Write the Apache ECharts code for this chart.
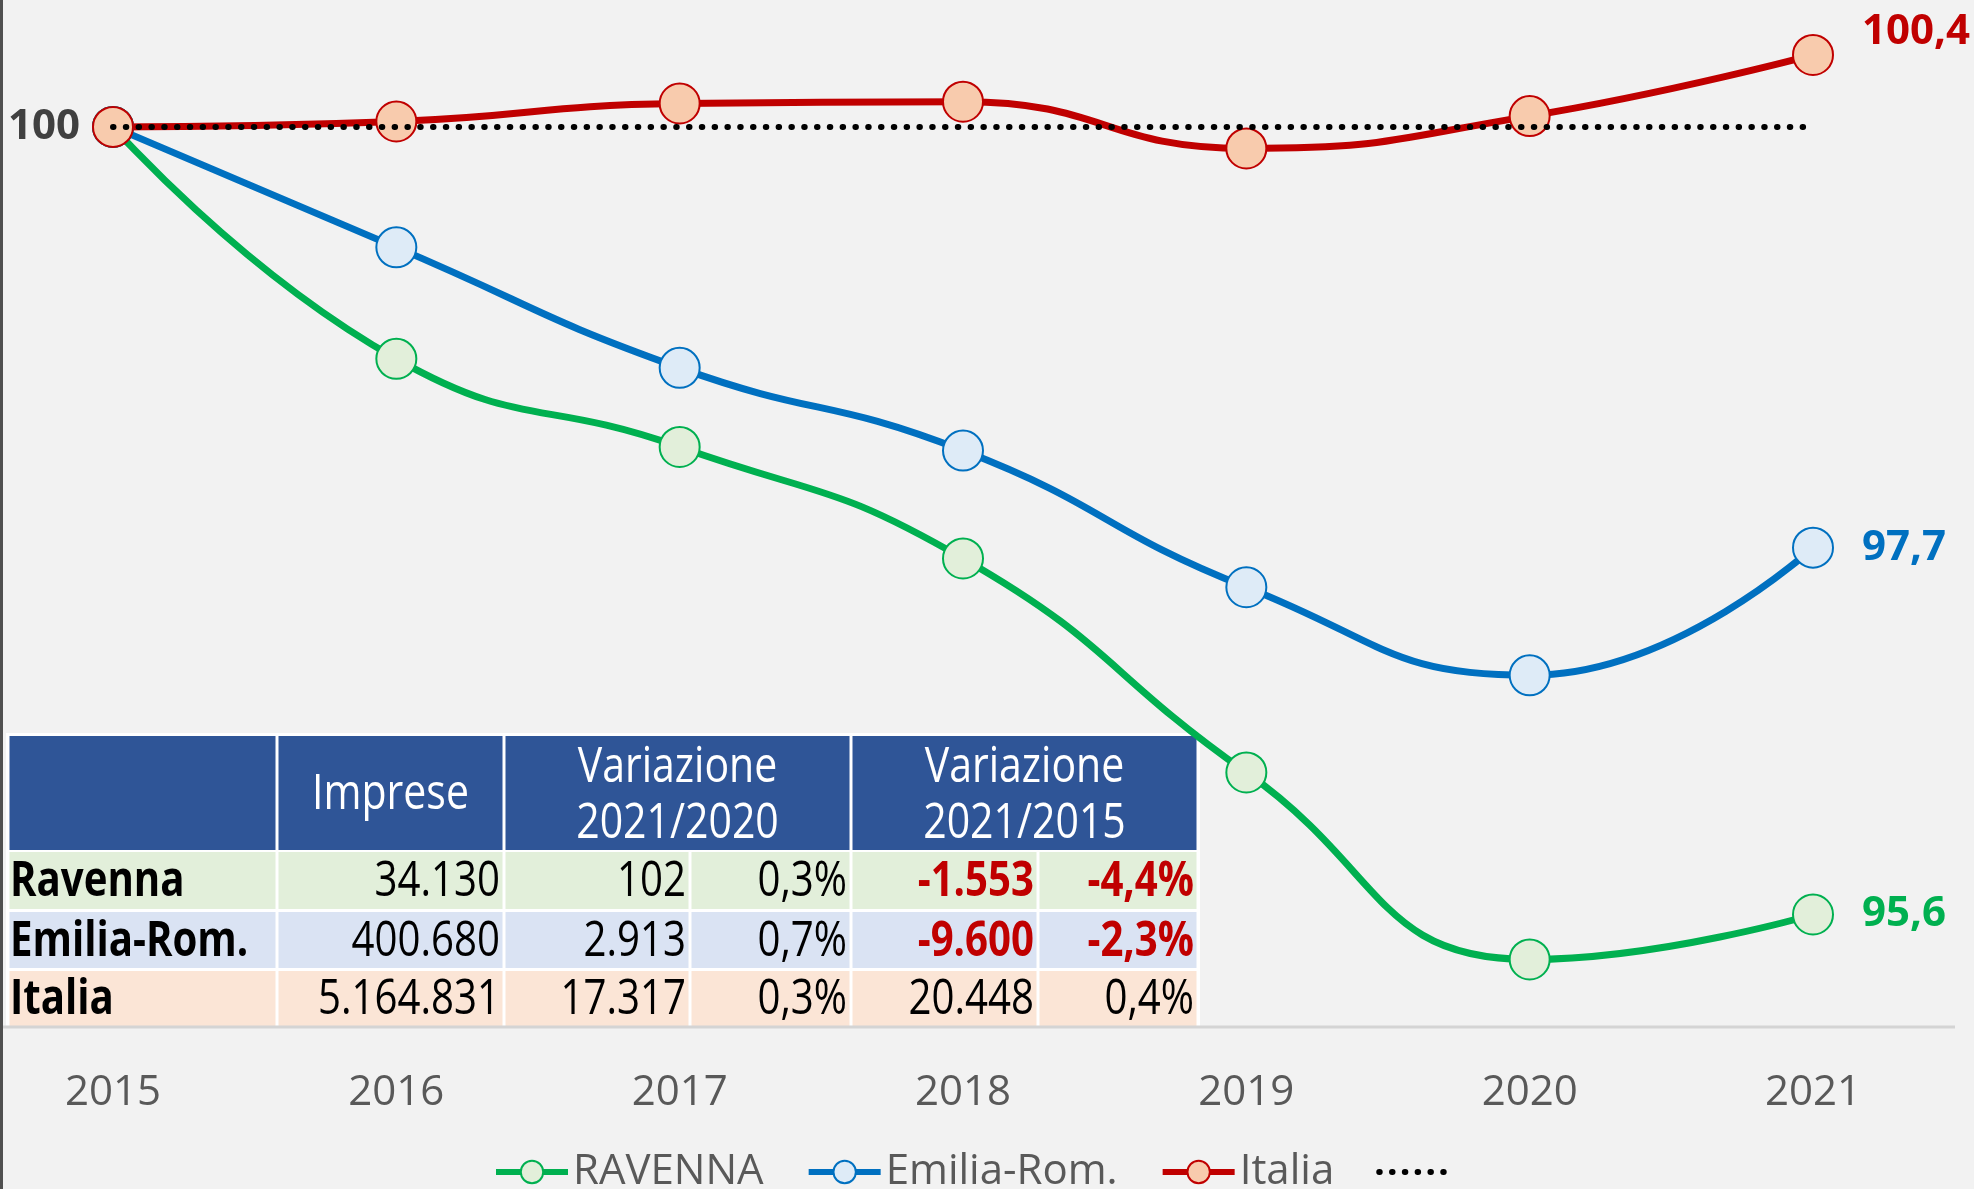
<!DOCTYPE html>
<html>
<head>
<meta charset="utf-8">
<script src="https://cdn.jsdelivr.net/npm/echarts@6/dist/echarts.min.js"></script>
<style>
  html, body { margin: 0; padding: 0; background: #f2f2f2; }
  #chart { width: 1974px; height: 1189px; }
</style>
</head>
<body>
<div id="chart"></div>
<script>
// dati (indice 2015 = 100)
const years = ['2015', '2016', '2017', '2018', '2019', '2020', '2021'];
const ravenna = [100, 98.71, 98.22, 97.60, 96.41, 95.37, 95.62];
const emilia = [100, 99.33, 98.66, 98.20, 97.44, 96.95, 97.66];
const italia = [100, 100.03, 100.13, 100.14, 99.88, 100.06, 100.40];
const base = [100, 100, 100, 100, 100, 100, 100];

// tabella
const rowNames = ['Ravenna', 'Emilia-Rom.', 'Italia'];
const imprese = ['34.130', '400.680', '5.164.831'];
const var2020Abs = ['102', '2.913', '17.317'];
const var2020Pct = ['0,3%', '0,7%', '0,3%'];
const var2015Abs = ['-1.553', '-9.600', '20.448'];
const var2015Pct = ['-4,4%', '-2,3%', '0,4%'];

const FONT = '"Open Sans", "Noto Sans", sans-serif';
const fmt = v => v.toFixed(1).replace('.', ',');

let chart = echarts.init(document.getElementById('chart'));

// --- tabella disegnata con graphic ---
const colX = [8, 277, 504, 690, 851, 1038, 1198];
const rowY = [[852, 909], [912, 968], [971, 1026]];
const rowFill = ['#e2efda', '#dae3f3', '#fbe5d6'];
const headFill = '#2f5597';
const SX = 0.82;   // testo piu' stretto, come nell'originale
let tbl = [];

function txt(text, x, y, align, font, color) {
    return {
        type: 'text',
        x: x, y: y, scaleX: SX,
        style: {
            text: text, x: 0, y: 0,
            textAlign: align, textVerticalAlign: 'middle',
            font: font, fill: color
        }
    };
}
function cell(x0, x1, y0, y1, fill) {
    return { type: 'rect', shape: { x: x0 + 1.5, y: y0, width: x1 - x0 - 3, height: y1 - y0 }, style: { fill: fill } };
}

tbl.push({ type: 'rect', shape: { x: 6, y: 733, width: 1194, height: 294 }, style: { fill: '#ffffff' } });
// intestazione
tbl.push(cell(colX[0], colX[1], 736, 850, headFill));
tbl.push(cell(colX[1], colX[2], 736, 850, headFill));
tbl.push(cell(colX[2], colX[4], 736, 850, headFill));
tbl.push(cell(colX[4], colX[6], 736, 850, headFill));
tbl.push(txt('Imprese', (colX[1] + colX[2]) / 2, 795, 'center', '50px ' + FONT, '#ffffff'));
tbl.push(txt('Variazione', (colX[2] + colX[4]) / 2, 768, 'center', '50px ' + FONT, '#ffffff'));
tbl.push(txt('2021/2020', (colX[2] + colX[4]) / 2, 824, 'center', '50px ' + FONT, '#ffffff'));
tbl.push(txt('Variazione', (colX[4] + colX[6]) / 2, 768, 'center', '50px ' + FONT, '#ffffff'));
tbl.push(txt('2021/2015', (colX[4] + colX[6]) / 2, 824, 'center', '50px ' + FONT, '#ffffff'));

const cols = [imprese, var2020Abs, var2020Pct, var2015Abs, var2015Pct];
rowNames.forEach(function (name, r) {
    let y0 = rowY[r][0], y1 = rowY[r][1], ym = (y0 + y1) / 2 + 2;
    for (let c = 0; c < 6; c++) tbl.push(cell(colX[c], colX[c + 1], y0, y1, rowFill[r]));
    tbl.push(txt(name, colX[0] + 2, ym, 'left', 'bold 49px ' + FONT, '#000000'));
    cols.forEach(function (arr, c) {
        let v = arr[r];
        let neg = v.charAt(0) === '-';
        tbl.push(txt(v, colX[c + 2] - 4, ym, 'right', (neg ? 'bold ' : '') + '49px ' + FONT, neg ? '#c00000' : '#000000'));
    });
});

function endLabel(color, extra) {
    return Object.assign({
        show: true, position: 'right', distance: 28,
        formatter: p => fmt(p.value),
        color: color, fontWeight: 'bold', fontSize: 42, fontFamily: FONT
    }, extra || {});
}

chart.setOption({
    backgroundColor: '#f2f2f2',
    animation: false,
    grid: { left: 113, right: 161, top: 1, bottom: 163 },
    xAxis: {
        type: 'category',
        data: years,
        boundaryGap: false,
        axisLine: { show: false },
        axisTick: { show: false },
        axisLabel: { color: '#595959', fontSize: 42, fontFamily: FONT, margin: 46 }
    },
    yAxis: {
        type: 'value', min: 95, max: 100.7,
        show: false,
        splitLine: { show: false }
    },
    legend: {
        left: 488, top: 1146,
        itemWidth: 72, itemHeight: 28, itemGap: 42,
        textStyle: { color: '#595959', fontSize: 42, fontFamily: FONT },
        lineStyle: { width: 6 },
        data: ['RAVENNA', 'Emilia-Rom.', 'Italia', { name: ' ', itemStyle: { opacity: 0 } }]
    },
    series: [
        {
            name: 'RAVENNA', type: 'line', smooth: 0.5,
            data: ravenna.map((v, i) => i === ravenna.length - 1 ? { value: v, label: endLabel('#00b050') } : v),
            symbol: 'circle', symbolSize: 40,
            lineStyle: { color: '#00b050', width: 7 },
            itemStyle: { color: '#e2efda', borderColor: '#00b050', borderWidth: 2 }
        },
        {
            name: 'Emilia-Rom.', type: 'line', smooth: 0.5,
            data: emilia.map((v, i) => i === emilia.length - 1 ? { value: v, label: endLabel('#0070c0') } : v),
            symbol: 'circle', symbolSize: 40,
            lineStyle: { color: '#0070c0', width: 7 },
            itemStyle: { color: '#deebf7', borderColor: '#0070c0', borderWidth: 2 }
        },
        {
            name: 'Italia', type: 'line', smooth: 0.5,
            data: italia.map(function (v, i) {
                if (i === 0) return { value: v, label: { show: true, position: 'left', distance: 12, formatter: '100', color: '#404040', fontWeight: 'bold', fontSize: 42, fontFamily: FONT } };
                if (i === italia.length - 1) return { value: v, label: endLabel('#c00000', { offset: [0, -23] }) };
                return v;
            }),
            symbol: 'circle', symbolSize: 40,
            lineStyle: { color: '#c00000', width: 7 },
            itemStyle: { color: '#f8cbad', borderColor: '#c00000', borderWidth: 2 }
        },
        {
            name: ' ', type: 'line',
            data: base,
            symbol: 'none',
            lineStyle: { color: '#000000', width: 6, type: [0.5, 12.3], cap: 'round' },
            itemStyle: { color: '#000000' },
            z: 5
        }
    ],
    graphic: [
        { type: 'line', z: 50, shape: { x1: 0, y1: 1027, x2: 1955, y2: 1027 }, style: { stroke: '#d4d4d4', lineWidth: 3 } },
        { type: 'group', z: 100, children: tbl },
        { type: 'rect', z: 100, shape: { x: 0, y: 0, width: 3, height: 1189 }, style: { fill: '#505050' } }
    ]
});
</script>
</body>
</html>
